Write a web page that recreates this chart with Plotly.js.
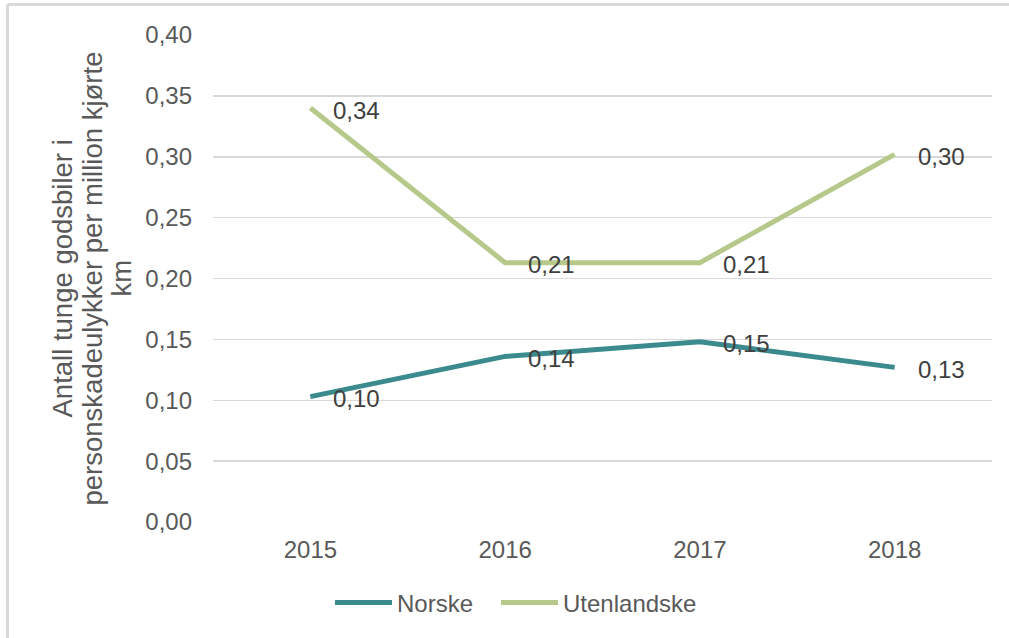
<!DOCTYPE html>
<html>
<head>
<meta charset="utf-8">
<script src="https://cdn.plot.ly/plotly-3.0.1.min.js"></script>
<style>
html,body{margin:0;padding:0;background:#fff;}
#chart{width:1009px;height:638px;}
</style>
</head>
<body>
<div id="chart"></div>
<script>
const years = ["2015", "2016", "2017", "2018"];
const norske = [0.103, 0.136, 0.148, 0.127];
const utenlandske = [0.340, 0.213, 0.213, 0.302];
const seriesNames = ["Norske", "Utenlandske"];
const seriesColors = ["#3a8a8e", "#b6c98b"];
const yTitleLines = ["Antall tunge godsbiler i", "personskadeulykker per million kjørte", "km"];

const FONT = "Liberation Sans, Arial, sans-serif";
const FS = 24;
const fmt = v => v.toFixed(2).replace(".", ",");

const allSeries = [norske, utenlandske];
const legendIds = ["legend", "legend2"];
const traces = allSeries.map((vals, i) => ({
  type: "scatter",
  mode: "lines",
  name: seriesNames[i],
  x: years,
  y: vals,
  legend: legendIds[i],
  line: {color: seriesColors[i], width: 5},
  hoverinfo: "x+y"
}));

const L = 213, R = 17, T = 35, B = 116;
const PW = 1009 - L - R, PH = 638 - T - B;

const annotations = [];
allSeries.forEach(vals => {
  vals.forEach((v, j) => {
    annotations.push({
      x: j, y: v, xref: "x", yref: "y",
      text: fmt(v), showarrow: false,
      xanchor: "left", yanchor: "middle",
      xshift: 21, yshift: -2,
      font: {family: FONT, size: FS, color: "#404040"}
    });
  });
});
// y-axis title lines (rotated)
const titleCenters = [62, 92, 121];
yTitleLines.forEach((t, k) => {
  annotations.push({
    xref: "paper", yref: "paper",
    x: (titleCenters[k] - L) / PW, y: 0.5,
    xanchor: "center", yanchor: "middle",
    text: t, textangle: -90, showarrow: false,
    font: {family: FONT, size: 27.5, color: "#595959"}
  });
});

const legendBase = {
  orientation: "h",
  xref: "container", yref: "container",
  xanchor: "left",
  y: 0.055, yanchor: "middle",
  font: {family: FONT, size: FS, color: "#595959"},
  itemwidth: 57,
  bgcolor: "rgba(0,0,0,0)"
};

const layout = {
  width: 1009, height: 638,
  margin: {l: L, r: R, t: T, b: B},
  paper_bgcolor: "#ffffff",
  plot_bgcolor: "#ffffff",
  separators: ", ",
  showlegend: true,
  legend: Object.assign({}, legendBase, {x: 330 / 1009}),
  legend2: Object.assign({}, legendBase, {x: 496 / 1009}),
  xaxis: {
    type: "category",
    range: [-0.5, 3.5],
    showgrid: false,
    zeroline: false,
    showline: false,
    ticks: "",
    ticklabelstandoff: 11,
    tickfont: {family: FONT, size: FS, color: "#595959"},
    fixedrange: true
  },
  yaxis: {
    range: [0, 0.40],
    dtick: 0.05,
    tick0: 0,
    tickformat: ".2f",
    showgrid: true,
    gridcolor: "#d9d9d9",
    gridwidth: 1.5,
    zeroline: false,
    showline: false,
    ticks: "",
    ticklabelstandoff: 20,
    tickfont: {family: FONT, size: FS, color: "#595959"},
    fixedrange: true
  },
  annotations: annotations,
  shapes: [
    {type: "line", xref: "paper", yref: "paper",
     x0: (7.5 - L) / PW, x1: (7.5 - L) / PW,
     y0: -0.3, y1: 1 + (T - 4.5) / PH,
     line: {color: "#d9d9d9", width: 3}},
    {type: "line", xref: "paper", yref: "paper",
     x0: (7.5 - L) / PW, x1: 1.05,
     y0: 1 + (T - 4.5) / PH, y1: 1 + (T - 4.5) / PH,
     line: {color: "#d9d9d9", width: 3}}
  ]
};

Plotly.newPlot("chart", traces, layout, {displayModeBar: false, staticPlot: true});
</script>
</body>
</html>
